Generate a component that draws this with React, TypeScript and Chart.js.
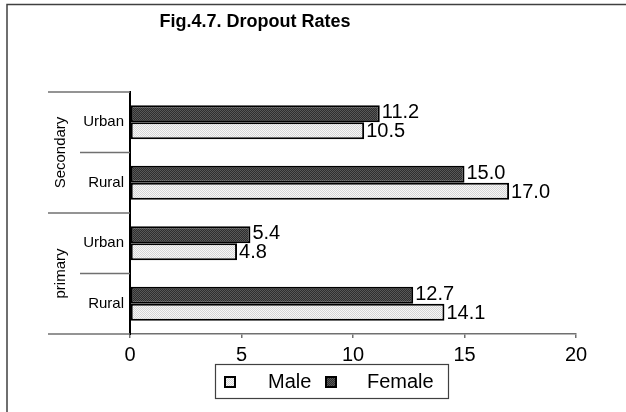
import React, { useEffect, useRef } from "react";
import { Chart, registerables } from "chart.js";

Chart.register(...registerables);

const TITLE = "Fig.4.7. Dropout Rates";
const subCategories = ["Urban", "Rural", "Urban", "Rural"];
const groups = ["Secondary", "primary"];
const femaleValues = [11.2, 15.0, 5.4, 12.7];
const maleValues = [10.5, 17.0, 4.8, 14.1];
const legendOrder = ["Male", "Female"];
const xTicks = [0, 5, 10, 15, 20];

const FONT = "Arial, 'Liberation Sans', sans-serif";

function makePattern(base: string, dot: string): CanvasPattern | string {
  const c = document.createElement("canvas");
  c.width = 2;
  c.height = 2;
  const g = c.getContext("2d");
  if (!g) return base;
  g.fillStyle = base;
  g.fillRect(0, 0, 2, 2);
  g.fillStyle = dot;
  g.fillRect(0, 0, 1, 1);
  g.fillRect(1, 1, 1, 1);
  const p = g.createPattern(c, "repeat");
  return p || base;
}

export default function App() {
  const ref = useRef<HTMLCanvasElement | null>(null);

  useEffect(() => {
    if (!ref.current) return;
    const darkFill = makePattern("#2e2e2e", "#585858");
    const lightFill = makePattern("#f6f6f6", "#d6d6d6");
    const fills: Record<string, any> = { Female: darkFill, Male: lightFill };

    const decorPlugin = {
      id: "decor",
      afterDatasetsDraw(chart: any) {
        const ctx = chart.ctx;
        ctx.save();
        ctx.fillStyle = "#000";
        ctx.font = `20px ${FONT}`;
        ctx.textAlign = "left";
        ctx.textBaseline = "middle";
        chart.data.datasets.forEach((ds: any, di: number) => {
          const meta = chart.getDatasetMeta(di);
          meta.data.forEach((bar: any, i: number) => {
            const v = ds.data[i] as number;
            ctx.fillText(v.toFixed(1), bar.x + 2, bar.y + (di === 0 ? -1 : 1));
          });
        });
        ctx.restore();
      },
      afterDraw(chart: any) {
        const ctx = chart.ctx;
        const area = chart.chartArea;
        const yScale = chart.scales.y;
        ctx.save();
        // outer frame
        ctx.strokeStyle = "#404040";
        ctx.lineWidth = 1.5;
        ctx.strokeRect(7, 4.5, 800, 600);
        // title
        ctx.fillStyle = "#000";
        ctx.font = `bold 18px ${FONT}`;
        ctx.textAlign = "center";
        ctx.textBaseline = "alphabetic";
        ctx.fillText(TITLE, 255, 27);
        // category separator lines
        const n = subCategories.length;
        const step = (area.bottom - area.top) / n;
        ctx.strokeStyle = "#707070";
        ctx.lineWidth = 1.5;
        for (let k = 0; k <= n; k++) {
          const y = area.top + k * step;
          const x0 = k % 2 === 0 ? 48 : 80;
          ctx.beginPath();
          ctx.moveTo(x0, y);
          ctx.lineTo(area.left, y);
          ctx.stroke();
        }
        // group labels
        ctx.fillStyle = "#000";
        ctx.font = `15px ${FONT}`;
        ctx.textAlign = "center";
        ctx.textBaseline = "middle";
        groups.forEach((g, gi) => {
          const yc =
            (yScale.getPixelForValue(gi * 2) + yScale.getPixelForValue(gi * 2 + 1)) / 2;
          ctx.save();
          ctx.translate(61, yc);
          ctx.rotate(-Math.PI / 2);
          ctx.fillText(g, 0, 0);
          ctx.restore();
        });
        // legend
        const lx = 215.5, ly = 364.5, lw = 233, lh = 34;
        ctx.fillStyle = "#fff";
        ctx.fillRect(lx, ly, lw, lh);
        ctx.strokeStyle = "#404040";
        ctx.lineWidth = 1.2;
        ctx.strokeRect(lx, ly, lw, lh);
        const sw = [224, 325];
        const tx = [268, 367];
        legendOrder.forEach((name, i) => {
          ctx.fillStyle = fills[name];
          ctx.fillRect(sw[i], 376, 12, 12);
          ctx.strokeStyle = "#000";
          ctx.lineWidth = 2;
          ctx.strokeRect(sw[i] + 1, 377, 10, 10);
          ctx.fillStyle = "#000";
          ctx.font = `20px ${FONT}`;
          ctx.textAlign = "left";
          ctx.textBaseline = "middle";
          ctx.fillText(name, tx[i], 382);
        });
        ctx.restore();
      },
    };

    const chart = new Chart(ref.current, {
      type: "bar",
      data: {
        labels: subCategories,
        datasets: [
          {
            label: "Female",
            data: femaleValues,
            backgroundColor: darkFill as any,
            borderColor: "#000",
            borderWidth: 2,
            borderSkipped: false,
            barPercentage: 1,
            categoryPercentage: 0.56,
          },
          {
            label: "Male",
            data: maleValues,
            backgroundColor: lightFill as any,
            borderColor: "#000",
            borderWidth: 2,
            borderSkipped: false,
            barPercentage: 1,
            categoryPercentage: 0.56,
          },
        ],
      },
      options: {
        indexAxis: "y",
        animation: false,
        responsive: false,
        events: [],
        layout: { padding: { top: 92, left: 0, right: 50, bottom: 48 } },
        plugins: {
          legend: { display: false },
          title: { display: false },
          tooltip: { enabled: false },
        },
        scales: {
          x: {
            min: xTicks[0],
            max: xTicks[xTicks.length - 1],
            afterBuildTicks: (scale: any) => {
              scale.ticks = xTicks.map((v) => ({ value: v }));
            },
            afterFit: (scale: any) => {
              scale.height = 30;
            },
            grid: {
              display: true,
              drawOnChartArea: false,
              drawTicks: true,
              tickLength: 4,
              color: "#707070",
              lineWidth: 1.5,
            },
            border: { display: true, color: "#707070", width: 1.5 },
            ticks: {
              color: "#000",
              font: { family: FONT, size: 20 },
              padding: 5,
              maxRotation: 0,
            },
          },
          y: {
            afterFit: (scale: any) => {
              scale.width = 130;
            },
            grid: { display: false, drawTicks: false },
            border: { display: true, color: "#000", width: 2 },
            ticks: {
              color: "#000",
              font: { family: FONT, size: 15 },
              padding: 6,
            },
          },
        },
      },
      plugins: [decorPlugin],
    });
    return () => chart.destroy();
  }, []);

  return (
    <div style={{ position: "absolute", left: 0, top: 0, width: 626, height: 412, background: "#fff" }}>
      <canvas ref={ref} width={626} height={412} />
    </div>
  );
}
